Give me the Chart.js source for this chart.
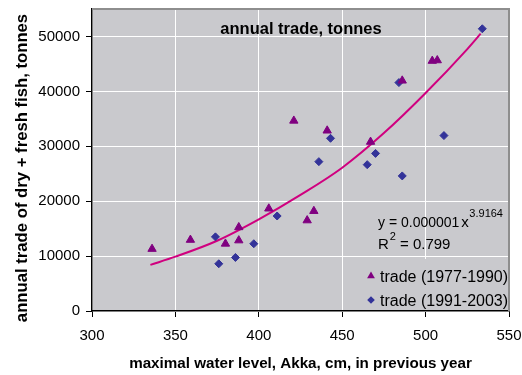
<!DOCTYPE html>
<html>
<head>
<meta charset="utf-8">
<script src="https://cdn.jsdelivr.net/npm/chart.js@4.4.0/dist/chart.umd.min.js"></script>
<style>
  body { margin: 0; background: #fff; }
  #wrap { width: 522px; height: 375px; }
</style>
</head>
<body>
<div id="wrap"><canvas id="chart" width="522" height="375"></canvas></div>
<script>
// axis ticks
const xTicks = [300, 350, 400, 450, 500, 550];
const yTicks = [0, 10000, 20000, 30000, 40000, 50000];

// trade (1977-1990): water level (cm) vs trade (tonnes)
const level1977 = [336, 359, 380, 388, 388, 406, 421, 429, 433, 441, 467, 486, 504, 507];
const trade1977 = [11300, 12950, 12250, 15250, 12850, 18650, 34650, 16500, 18200, 32850, 30800, 41950, 45550, 45650];

// trade (1991-2003)
const level1991 = [374, 376, 386, 397, 411, 436, 443, 465, 470, 484, 486, 511, 534];
const trade1991 = [13500, 8600, 9750, 12250, 17300, 27200, 31450, 26650, 28700, 41600, 24600, 31950, 51400];

// power trend line
const trendLevel = [335, 350, 375, 400, 425, 450, 475, 500, 525, 533];
const trendTrade = [8400, 9900, 12800, 16700, 21150, 26100, 32400, 39700, 47700, 50500];

const FONT = '"Liberation Sans", Arial, sans-serif';
const plotColor = '#c9c9cd';
const triColor = '#800080';
const diaColor = '#333399';

function toPoints(xs, ys) {
  return xs.map((x, i) => ({ x: x, y: ys[i] }));
}

function drawTriangle(ctx, x, y, r) {
  ctx.beginPath();
  ctx.moveTo(x, y - r);
  ctx.lineTo(x + r * 0.866, y + r / 2);
  ctx.lineTo(x - r * 0.866, y + r / 2);
  ctx.closePath();
  ctx.fill();
}

function drawDiamond(ctx, x, y, r) {
  ctx.beginPath();
  ctx.moveTo(x, y - r);
  ctx.lineTo(x + r, y);
  ctx.lineTo(x, y + r);
  ctx.lineTo(x - r, y);
  ctx.closePath();
  ctx.fill();
}

// keep the plot area where the original has it
function noPadding(s) {
  s.paddingLeft = 0;
  s.paddingRight = 0;
  s.paddingTop = 0;
  s.paddingBottom = 0;
}

const overlay = {
  id: 'overlay',
  beforeDraw(chart) {
    const { ctx, chartArea: a } = chart;
    ctx.save();
    ctx.fillStyle = plotColor;
    ctx.fillRect(a.left, a.top, a.right - a.left, a.bottom - a.top);
    ctx.restore();
  },
  beforeDatasetsDraw(chart) {
    const { ctx, chartArea: a } = chart;
    ctx.save();
    // plot border (top / right)
    ctx.strokeStyle = '#8e8e8e';
    ctx.lineWidth = 2;
    ctx.beginPath();
    ctx.moveTo(a.left, a.top);
    ctx.lineTo(a.right, a.top);
    ctx.lineTo(a.right, a.bottom);
    ctx.stroke();
    // legend box covers the grid
    ctx.fillStyle = plotColor;
    ctx.fillRect(a.right - 147, a.bottom - 52, 146, 51);
    ctx.restore();
  },
  afterDraw(chart) {
    const { ctx, chartArea: a } = chart;
    ctx.save();
    ctx.fillStyle = '#000';

    // title inside plot
    ctx.font = 'bold 16.5px ' + FONT;
    ctx.textAlign = 'center';
    ctx.textBaseline = 'middle';
    ctx.fillText('annual trade, tonnes', 301, a.top + 20);

    // y axis title
    ctx.save();
    ctx.translate(22, 168);
    ctx.rotate(-Math.PI / 2);
    ctx.font = 'bold 16.7px ' + FONT;
    ctx.fillText('annual trade of dry + fresh fish, tonnes', 0, 0);
    ctx.restore();

    // trend equation
    ctx.textAlign = 'left';
    ctx.textBaseline = 'alphabetic';
    const ex = a.right - 131;
    ctx.font = '14px ' + FONT;
    const eq = 'y = 0.000001';
    ctx.fillText(eq, ex, 227);
    const w1 = ctx.measureText(eq).width;
    ctx.font = '15px ' + FONT;
    ctx.fillText('x', ex + w1 + 2, 227);
    ctx.font = '11px ' + FONT;
    ctx.fillText('3.9164', ex + w1 + 10, 217);
    ctx.font = '15px ' + FONT;
    ctx.fillText('R', ex, 249);
    const wr = ctx.measureText('R').width;
    ctx.font = '11px ' + FONT;
    ctx.fillText('2', ex + wr + 1, 240);
    ctx.font = '15px ' + FONT;
    ctx.fillText(' = 0.799', ex + wr + 7, 249);

    // legend
    ctx.font = '16px ' + FONT;
    ctx.fillStyle = triColor;
    drawTriangle(ctx, 371, 276, 4.5);
    ctx.fillStyle = diaColor;
    drawDiamond(ctx, 371, 300, 3.8);
    ctx.fillStyle = '#000';
    ctx.fillText('trade (1977-1990)', 380, 282);
    ctx.fillText('trade (1991-2003)', 380, 306);
    ctx.restore();
  }
};

new Chart(document.getElementById('chart'), {
  type: 'scatter',
  data: {
    datasets: [
      {
        label: 'trade (1977-1990)',
        data: toPoints(level1977, trade1977),
        pointStyle: 'triangle',
        pointRadius: 4.8,
        backgroundColor: triColor,
        borderColor: triColor,
        borderWidth: 1
      },
      {
        label: 'trade (1991-2003)',
        data: toPoints(level1991, trade1991),
        pointStyle: 'rectRot',
        pointRadius: 4,
        backgroundColor: diaColor,
        borderColor: diaColor,
        borderWidth: 1
      },
      {
        label: 'trend',
        data: toPoints(trendLevel, trendTrade),
        showLine: true,
        pointRadius: 0,
        borderColor: '#d0007f',
        borderWidth: 2,
        cubicInterpolationMode: 'monotone'
      }
    ]
  },
  options: {
    responsive: false,
    animation: false,
    layout: { padding: { top: 9, right: 13, left: 0, bottom: 0 } },
    plugins: {
      legend: { display: false },
      tooltip: { enabled: false },
      title: { display: false }
    },
    scales: {
      x: {
        type: 'linear',
        min: 300,
        max: 550,
        afterBuildTicks: s => { s.ticks = xTicks.map(v => ({ value: v })); },
        afterFit: s => { s.height = 64; noPadding(s); },
        grid: { color: '#ffffff', lineWidth: 1, tickColor: '#000', tickLength: 6 },
        border: { color: '#000', width: 1.5 },
        ticks: {
          color: '#000',
          padding: 10,
          font: { family: FONT, size: 15 },
          callback: v => String(v)
        },
        title: {
          display: true,
          text: 'maximal water level, Akka, cm, in previous year',
          color: '#000',
          font: { family: FONT, size: 15.2, weight: 'bold' },
          padding: { top: 0, bottom: 2 }
        }
      },
      y: {
        type: 'linear',
        min: 0,
        max: 55000,
        afterBuildTicks: s => { s.ticks = yTicks.map(v => ({ value: v })); },
        afterFit: s => { s.width = 92; noPadding(s); },
        grid: { color: '#ffffff', lineWidth: 1, tickColor: '#000', tickLength: 6 },
        border: { color: '#000', width: 1.5 },
        ticks: {
          color: '#000',
          padding: 6,
          font: { family: FONT, size: 15 },
          callback: v => String(v)
        }
      }
    }
  },
  plugins: [overlay]
});
</script>
</body>
</html>
